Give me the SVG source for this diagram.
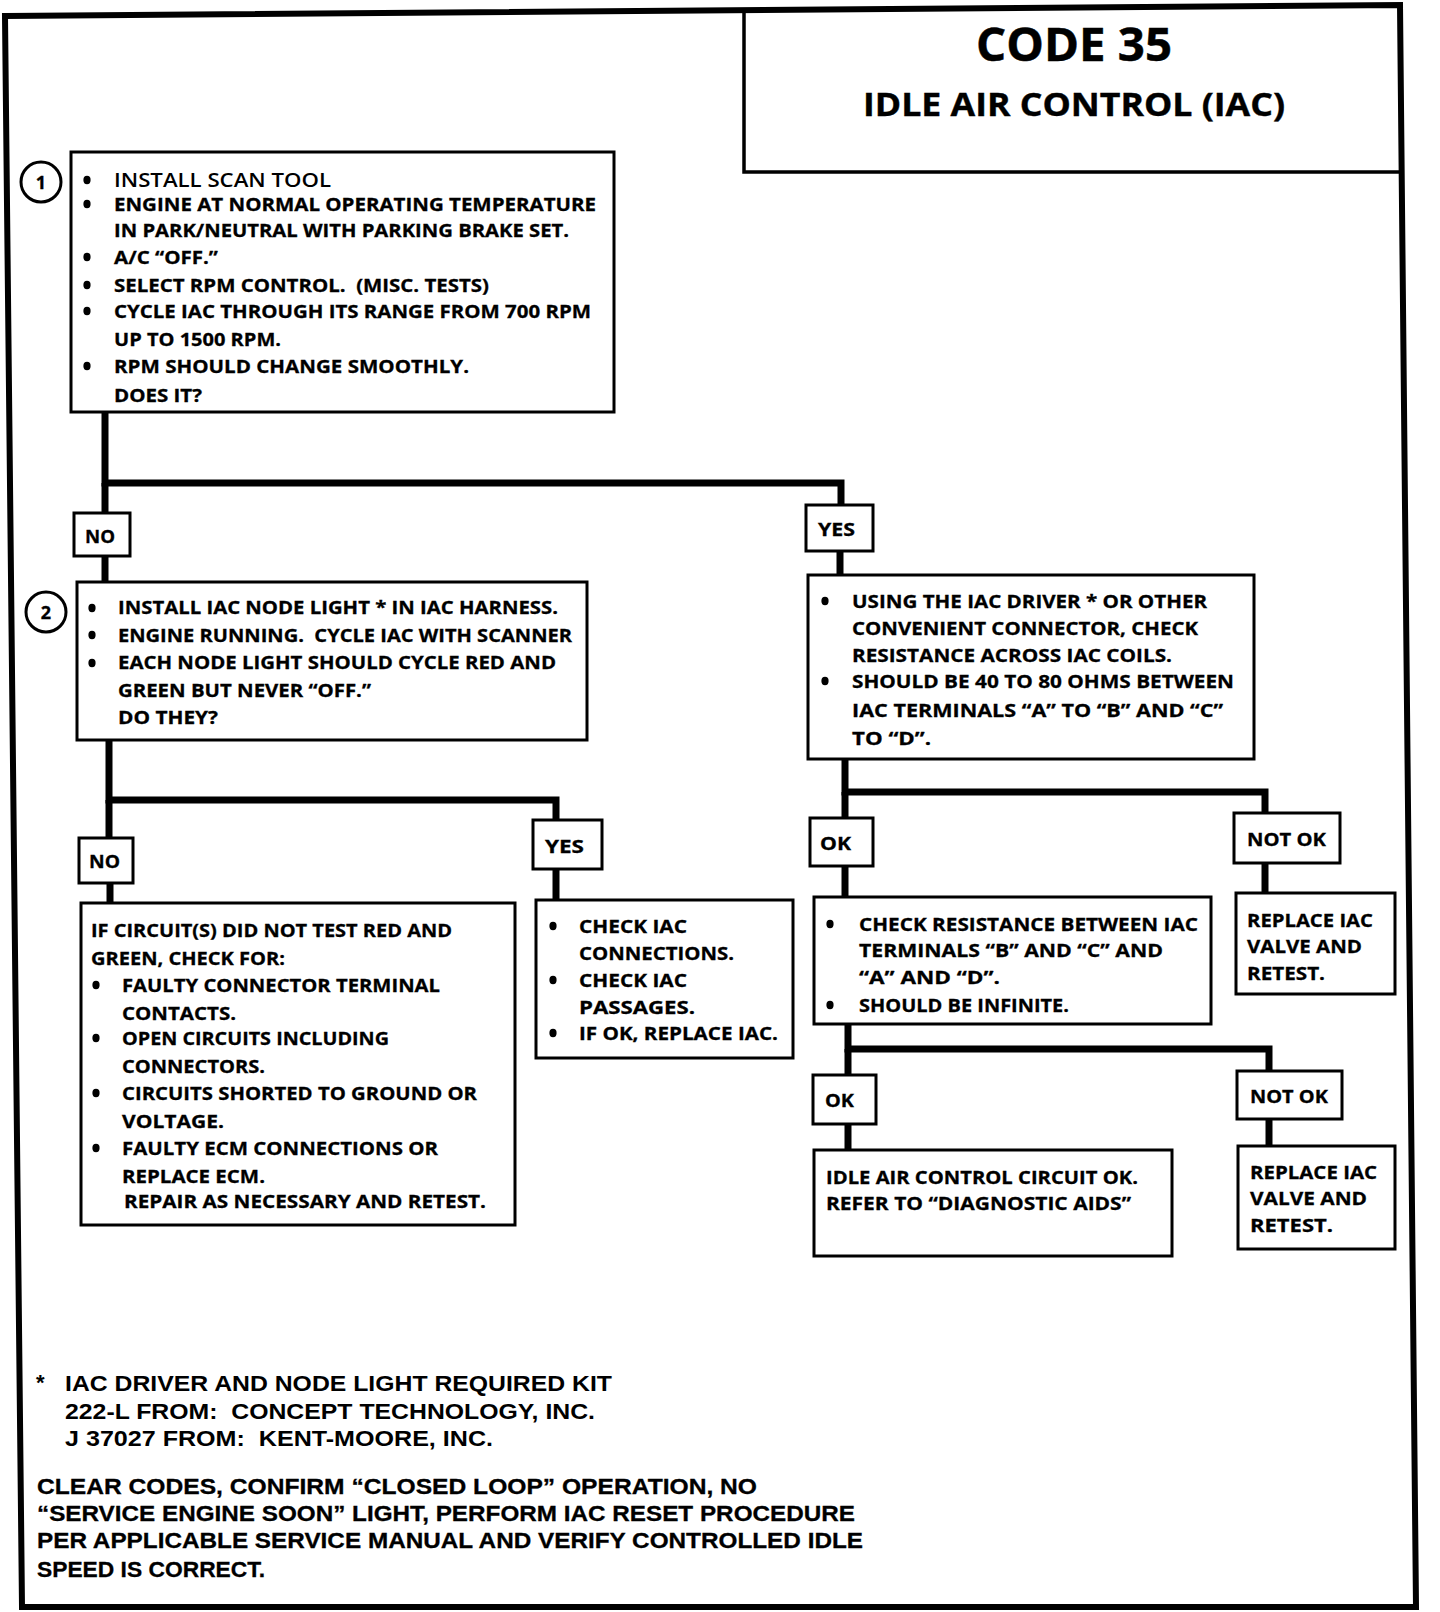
<svg xmlns="http://www.w3.org/2000/svg" xmlns:xlink="http://www.w3.org/1999/xlink" width="1440" height="1612" viewBox="0 0 1440 1612">
<style>
.bx{fill:#fff;stroke:#000;stroke-width:3}
.t{font-family:"Open Sans","Liberation Sans",sans-serif;font-weight:700;font-size:18.5px;fill:#000;stroke:#000;stroke-width:0.3;white-space:pre}
.l{font-family:"Open Sans","Liberation Sans",sans-serif;font-weight:700;font-size:18px;fill:#000;stroke:#000;stroke-width:0.3}
.f{font-family:"Liberation Sans","Open Sans",sans-serif;font-weight:700;font-size:22px;fill:#000;white-space:pre}
.fb{font-family:"Liberation Sans","Open Sans",sans-serif;font-weight:700;font-size:22.5px;fill:#000;stroke:#000;stroke-width:0.3}
.cn{fill:none;stroke:#000;stroke-width:7;stroke-linecap:butt;stroke-linejoin:miter}
.ci{fill:#fff;stroke:#000;stroke-width:3}
</style>
<defs>
<ellipse id="bul" cx="0" cy="0" rx="3.6" ry="4.2" fill="#000"/>
</defs>
<rect x="0" y="0" width="1440" height="1612" fill="#fff"/>
<path d="M5,16 L1400,5 L1416,1607 L22,1607 Z" fill="none" stroke="#000" stroke-width="6"/>

<g id="connectors">
<path class="cn" d="M105,412 V483 H841 V505"/>
<path class="cn" d="M105,483 V513"/>
<path class="cn" d="M105,556 V582"/>
<path class="cn" d="M840,551 V575"/>
<path class="cn" d="M109,739 V800 H556 V820"/>
<path class="cn" d="M109,800 V838"/>
<path class="cn" d="M110,883 V903"/>
<path class="cn" d="M556,869 V900"/>
<path class="cn" d="M845,759 V792 H1265 V813"/>
<path class="cn" d="M845,792 V818"/>
<path class="cn" d="M845,866 V897"/>
<path class="cn" d="M1265,863 V893"/>
<path class="cn" d="M848,1024 V1049 H1269 V1071"/>
<path class="cn" d="M848,1049 V1075"/>
<path class="cn" d="M848,1124 V1150"/>
<path class="cn" d="M1269,1119 V1146"/>
</g>

<g id="title">
<path d="M744,9 V172 H1401" fill="none" stroke="#000" stroke-width="3.5"/>
<text x="976" y="61" textLength="196" lengthAdjust="spacingAndGlyphs" style="font-family:'Open Sans','Liberation Sans',sans-serif;font-weight:700;font-size:47px;stroke:#000;stroke-width:0.5">CODE 35</text>
<text x="863" y="116" textLength="422" lengthAdjust="spacingAndGlyphs" style="font-family:'Open Sans','Liberation Sans',sans-serif;font-weight:700;font-size:32px;stroke:#000;stroke-width:0.4">IDLE AIR CONTROL (IAC)</text>
</g>

<g id="step1">
<circle class="ci" cx="41" cy="182" r="20"/>
<text class="l" x="41" y="189" text-anchor="middle">1</text>
<rect class="bx" x="71" y="152" width="543" height="260"/>
<use xlink:href="#bul" x="87" y="180"/>
<use xlink:href="#bul" x="87" y="204"/>
<use xlink:href="#bul" x="87" y="257"/>
<use xlink:href="#bul" x="87" y="285"/>
<use xlink:href="#bul" x="87" y="311"/>
<use xlink:href="#bul" x="87" y="366"/>
<text class="t" x="114" y="187" textLength="217" lengthAdjust="spacingAndGlyphs" style="font-weight:600;font-size:20px;stroke-width:0">INSTALL SCAN TOOL</text>
<text class="t" x="114" y="211" textLength="482" lengthAdjust="spacingAndGlyphs">ENGINE AT NORMAL OPERATING TEMPERATURE</text>
<text class="t" x="114" y="237" textLength="455" lengthAdjust="spacingAndGlyphs">IN PARK/NEUTRAL WITH PARKING BRAKE SET.</text>
<text class="t" x="114" y="264" textLength="104" lengthAdjust="spacingAndGlyphs">A/C “OFF.”</text>
<text class="t" x="114" y="292" textLength="375" lengthAdjust="spacingAndGlyphs" xml:space="preserve">SELECT RPM CONTROL.  (MISC. TESTS)</text>
<text class="t" x="114" y="318" textLength="477" lengthAdjust="spacingAndGlyphs">CYCLE IAC THROUGH ITS RANGE FROM 700 RPM</text>
<text class="t" x="114" y="346" textLength="167" lengthAdjust="spacingAndGlyphs">UP TO 1500 RPM.</text>
<text class="t" x="114" y="373" textLength="355" lengthAdjust="spacingAndGlyphs">RPM SHOULD CHANGE SMOOTHLY.</text>
<text class="t" x="114" y="402" textLength="88" lengthAdjust="spacingAndGlyphs">DOES IT?</text>
</g>

<g id="no1">
<rect class="bx" x="74" y="513" width="56" height="43"/>
<text class="l" x="85" y="543" textLength="30" lengthAdjust="spacingAndGlyphs">NO</text>
</g>

<g id="yes1">
<rect class="bx" x="806" y="505" width="67" height="46"/>
<text class="l" x="818" y="536" textLength="37" lengthAdjust="spacingAndGlyphs">YES</text>
</g>

<g id="step2">
<circle class="ci" cx="46" cy="612" r="20"/>
<text class="l" x="46" y="619" text-anchor="middle">2</text>
<rect class="bx" x="77" y="582" width="510" height="158"/>
<use xlink:href="#bul" x="92" y="608"/>
<use xlink:href="#bul" x="92" y="635"/>
<use xlink:href="#bul" x="92" y="663"/>
<text class="t" x="118" y="614" textLength="440" lengthAdjust="spacingAndGlyphs">INSTALL IAC NODE LIGHT * IN IAC HARNESS.</text>
<text class="t" x="118" y="642" textLength="454" lengthAdjust="spacingAndGlyphs" xml:space="preserve">ENGINE RUNNING.  CYCLE IAC WITH SCANNER</text>
<text class="t" x="118" y="669" textLength="438" lengthAdjust="spacingAndGlyphs">EACH NODE LIGHT SHOULD CYCLE RED AND</text>
<text class="t" x="118" y="697" textLength="253" lengthAdjust="spacingAndGlyphs">GREEN BUT NEVER “OFF.”</text>
<text class="t" x="118" y="724" textLength="100" lengthAdjust="spacingAndGlyphs">DO THEY?</text>
</g>

<g id="no2">
<rect class="bx" x="79" y="838" width="54" height="45"/>
<text class="l" x="89" y="868" textLength="31" lengthAdjust="spacingAndGlyphs">NO</text>
</g>

<g id="yes2">
<rect class="bx" x="533" y="820" width="69" height="49"/>
<text class="l" x="545" y="853" textLength="39" lengthAdjust="spacingAndGlyphs">YES</text>
</g>

<g id="no-result">
<rect class="bx" x="81" y="903" width="434" height="322"/>
<use xlink:href="#bul" x="96" y="985"/>
<use xlink:href="#bul" x="96" y="1038"/>
<use xlink:href="#bul" x="96" y="1093"/>
<use xlink:href="#bul" x="96" y="1148"/>
<text class="t" x="91" y="937" textLength="361" lengthAdjust="spacingAndGlyphs">IF CIRCUIT(S) DID NOT TEST RED AND</text>
<text class="t" x="91" y="965" textLength="194" lengthAdjust="spacingAndGlyphs">GREEN, CHECK FOR:</text>
<text class="t" x="122" y="992" textLength="318" lengthAdjust="spacingAndGlyphs">FAULTY CONNECTOR TERMINAL</text>
<text class="t" x="122" y="1020" textLength="114" lengthAdjust="spacingAndGlyphs">CONTACTS.</text>
<text class="t" x="122" y="1045" textLength="267" lengthAdjust="spacingAndGlyphs">OPEN CIRCUITS INCLUDING</text>
<text class="t" x="122" y="1073" textLength="143" lengthAdjust="spacingAndGlyphs">CONNECTORS.</text>
<text class="t" x="122" y="1100" textLength="355" lengthAdjust="spacingAndGlyphs">CIRCUITS SHORTED TO GROUND OR</text>
<text class="t" x="122" y="1128" textLength="102" lengthAdjust="spacingAndGlyphs">VOLTAGE.</text>
<text class="t" x="122" y="1155" textLength="316" lengthAdjust="spacingAndGlyphs">FAULTY ECM CONNECTIONS OR</text>
<text class="t" x="122" y="1183" textLength="143" lengthAdjust="spacingAndGlyphs">REPLACE ECM.</text>
<text class="t" x="124" y="1208" textLength="362" lengthAdjust="spacingAndGlyphs">REPAIR AS NECESSARY AND RETEST.</text>
</g>

<g id="yes2-result">
<rect class="bx" x="536" y="900" width="257" height="158"/>
<use xlink:href="#bul" x="553" y="926"/>
<use xlink:href="#bul" x="553" y="980"/>
<use xlink:href="#bul" x="553" y="1033"/>
<text class="t" x="579" y="933" textLength="108" lengthAdjust="spacingAndGlyphs">CHECK IAC</text>
<text class="t" x="579" y="960" textLength="155" lengthAdjust="spacingAndGlyphs">CONNECTIONS.</text>
<text class="t" x="579" y="987" textLength="108" lengthAdjust="spacingAndGlyphs">CHECK IAC</text>
<text class="t" x="579" y="1014" textLength="116" lengthAdjust="spacingAndGlyphs">PASSAGES.</text>
<text class="t" x="579" y="1040" textLength="199" lengthAdjust="spacingAndGlyphs">IF OK, REPLACE IAC.</text>
</g>

<g id="resistance1">
<rect class="bx" x="808" y="575" width="446" height="184"/>
<use xlink:href="#bul" x="825" y="601"/>
<use xlink:href="#bul" x="825" y="681"/>
<text class="t" x="852" y="608" textLength="355" lengthAdjust="spacingAndGlyphs">USING THE IAC DRIVER * OR OTHER</text>
<text class="t" x="852" y="635" textLength="346" lengthAdjust="spacingAndGlyphs">CONVENIENT CONNECTOR, CHECK</text>
<text class="t" x="852" y="662" textLength="320" lengthAdjust="spacingAndGlyphs">RESISTANCE ACROSS IAC COILS.</text>
<text class="t" x="852" y="688" textLength="382" lengthAdjust="spacingAndGlyphs">SHOULD BE 40 TO 80 OHMS BETWEEN</text>
<text class="t" x="852" y="717" textLength="371" lengthAdjust="spacingAndGlyphs">IAC TERMINALS “A” TO “B” AND “C”</text>
<text class="t" x="852" y="745" textLength="79" lengthAdjust="spacingAndGlyphs">TO “D”.</text>
</g>

<g id="ok1">
<rect class="bx" x="810" y="818" width="63" height="48"/>
<text class="l" x="820" y="850" textLength="31" lengthAdjust="spacingAndGlyphs">OK</text>
</g>

<g id="notok1">
<rect class="bx" x="1234" y="813" width="106" height="50"/>
<text class="l" x="1247" y="846" textLength="79" lengthAdjust="spacingAndGlyphs">NOT OK</text>
</g>

<g id="resistance2">
<rect class="bx" x="814" y="897" width="397" height="127"/>
<use xlink:href="#bul" x="830" y="924"/>
<use xlink:href="#bul" x="830" y="1005"/>
<text class="t" x="859" y="931" textLength="339" lengthAdjust="spacingAndGlyphs">CHECK RESISTANCE BETWEEN IAC</text>
<text class="t" x="859" y="957" textLength="304" lengthAdjust="spacingAndGlyphs">TERMINALS “B” AND “C” AND</text>
<text class="t" x="859" y="984" textLength="141" lengthAdjust="spacingAndGlyphs">“A” AND “D”.</text>
<text class="t" x="859" y="1012" textLength="210" lengthAdjust="spacingAndGlyphs">SHOULD BE INFINITE.</text>
</g>

<g id="replace1">
<rect class="bx" x="1236" y="893" width="159" height="101"/>
<text class="t" x="1247" y="927" textLength="126" lengthAdjust="spacingAndGlyphs">REPLACE IAC</text>
<text class="t" x="1247" y="953" textLength="115" lengthAdjust="spacingAndGlyphs">VALVE AND</text>
<text class="t" x="1247" y="980" textLength="78" lengthAdjust="spacingAndGlyphs">RETEST.</text>
</g>

<g id="ok2">
<rect class="bx" x="813" y="1075" width="63" height="49"/>
<text class="l" x="825" y="1107" textLength="29" lengthAdjust="spacingAndGlyphs">OK</text>
</g>

<g id="notok2">
<rect class="bx" x="1237" y="1071" width="105" height="48"/>
<text class="l" x="1250" y="1103" textLength="78" lengthAdjust="spacingAndGlyphs">NOT OK</text>
</g>

<g id="circuit-ok">
<rect class="bx" x="814" y="1150" width="358" height="106"/>
<text class="t" x="826" y="1184" textLength="312" lengthAdjust="spacingAndGlyphs">IDLE AIR CONTROL CIRCUIT OK.</text>
<text class="t" x="826" y="1210" textLength="305" lengthAdjust="spacingAndGlyphs">REFER TO “DIAGNOSTIC AIDS”</text>
</g>

<g id="replace2">
<rect class="bx" x="1238" y="1146" width="157" height="103"/>
<text class="t" x="1250" y="1179" textLength="127" lengthAdjust="spacingAndGlyphs">REPLACE IAC</text>
<text class="t" x="1250" y="1205" textLength="117" lengthAdjust="spacingAndGlyphs">VALVE AND</text>
<text class="t" x="1250" y="1232" textLength="83" lengthAdjust="spacingAndGlyphs">RETEST.</text>
</g>

<g id="footnote">
<text class="f" x="36" y="1390">*</text>
<text class="f" x="65" y="1391" textLength="547" lengthAdjust="spacingAndGlyphs">IAC DRIVER AND NODE LIGHT REQUIRED KIT</text>
<text class="f" x="65" y="1419" textLength="530" lengthAdjust="spacingAndGlyphs" xml:space="preserve">222-L FROM:  CONCEPT TECHNOLOGY, INC.</text>
<text class="f" x="65" y="1446" textLength="428" lengthAdjust="spacingAndGlyphs" xml:space="preserve">J 37027 FROM:  KENT-MOORE, INC.</text>
</g>

<g id="instructions">
<text class="fb" x="37" y="1494" textLength="720" lengthAdjust="spacingAndGlyphs">CLEAR CODES, CONFIRM “CLOSED LOOP” OPERATION, NO</text>
<text class="fb" x="37" y="1521" textLength="818" lengthAdjust="spacingAndGlyphs">“SERVICE ENGINE SOON” LIGHT, PERFORM IAC RESET PROCEDURE</text>
<text class="fb" x="37" y="1548" textLength="826" lengthAdjust="spacingAndGlyphs">PER APPLICABLE SERVICE MANUAL AND VERIFY CONTROLLED IDLE</text>
<text class="fb" x="37" y="1577" textLength="228" lengthAdjust="spacingAndGlyphs">SPEED IS CORRECT.</text>
</g>
</svg>
